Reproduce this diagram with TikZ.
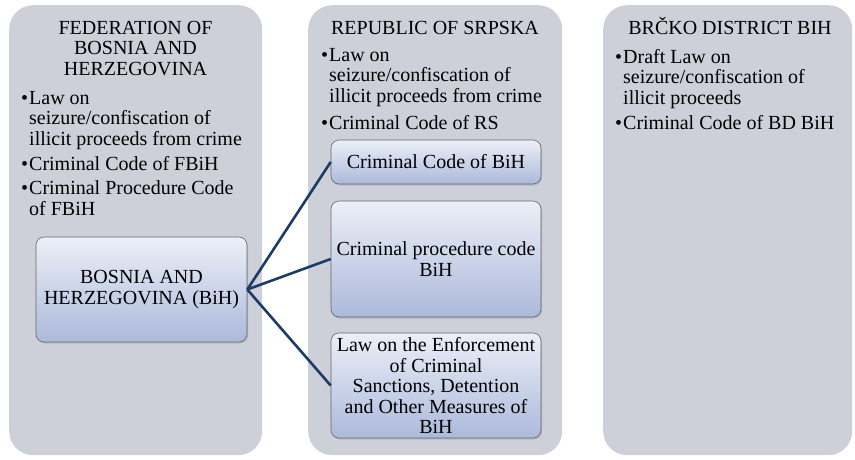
\documentclass[tikz,border=0pt]{standalone}
\usepackage{fontspec}
\setmainfont{Liberation Serif}
\usetikzlibrary{shadows}

\definecolor{panelgray}{HTML}{CDD0D9}
\definecolor{boxtop}{HTML}{ECEFF7}
\definecolor{boxbottom}{HTML}{ABB9DB}
\definecolor{linknavy}{HTML}{1C3C64}
\tikzset{
  panel/.style={fill=panelgray,rounded corners=24pt,anchor=north west,inner sep=0pt},
  lawbox/.style={draw=black!60,line width=0.6pt,rounded corners=8pt,top color=boxtop,bottom color=boxbottom,
    align=center,inner sep=0pt,drop shadow={opacity=0.3,shadow xshift=1pt,shadow yshift=-1.5pt}},
  heading/.style={anchor=base,align=center},
  lawitem/.style={anchor=base west,align=left,inner sep=0pt},
  link/.style={draw=linknavy,line width=2.6pt}
}
\newcommand{\bul}{\llap{\makebox[8pt][l]{\textbullet}}}

\begin{document}
\begin{tikzpicture}[x=1pt,y=-1pt,every node/.append style={font=\fontsize{20}{20.5}\selectfont}]
\useasboundingbox (0,0) rectangle (855,459);
\node[panel,minimum width=253pt,minimum height=450pt] (fed) at (9,5) {};
\node[panel,minimum width=254pt,minimum height=450pt] (rs) at (308,5) {};
\node[panel,minimum width=249pt,minimum height=450pt] (bd) at (603,5) {};

% base of a list node = its last line
\node[heading] (fedhead) at (135.5,75) {FEDERATION OF\\BOSNIA AND\\HERZEGOVINA};
\node[lawitem] (fedlaw) at (29,145) {\bul Law on\\seizure/confiscation of\\illicit proceeds from crime};
\node[lawitem] (fedcc) at (29,170) {\bul Criminal Code of FBiH};
\node[lawitem] (fedcpc) at (29,215) {\bul Criminal Procedure Code\\of FBiH};

\node[heading] (rshead) at (435,34) {REPUBLIC OF SRPSKA};
\node[lawitem] (rslaw) at (329,102) {\bul Law on\\seizure/confiscation of\\illicit proceeds from crime};
\node[lawitem] (rscc) at (329,129) {\bul Criminal Code of RS};

\node[heading] (bdhead) at (730,34) {BRČKO DISTRICT BIH};
\node[lawitem] (bdlaw) at (623,104) {\bul Draft Law on\\seizure/confiscation of\\illicit proceeds};
\node[lawitem] (bdcc) at (623,129) {\bul Criminal Code of BD BiH};

\node[lawbox,minimum width=211pt,minimum height=105pt] (bih) at (141.5,289.5) {BOSNIA AND\\HERZEGOVINA (BiH)};
\node[lawbox,minimum width=210pt,minimum height=44pt] (cc) at (436,162) {Criminal Code of BiH};
\node[lawbox,minimum width=210pt,minimum height=116pt] (cpc) at (436,259) {Criminal procedure code\\BiH};
\node[lawbox,minimum width=210pt,minimum height=105pt] (les) at (436,385.5)
  {Law on the Enforcement\\of Criminal\\Sanctions, Detention\\and Other Measures of\\BiH};

\draw[link] (bih.east) -- (cc.west);
\draw[link] (bih.east) -- (cpc.west);
\draw[link] (bih.east) -- (les.west);
\end{tikzpicture}
\end{document}
